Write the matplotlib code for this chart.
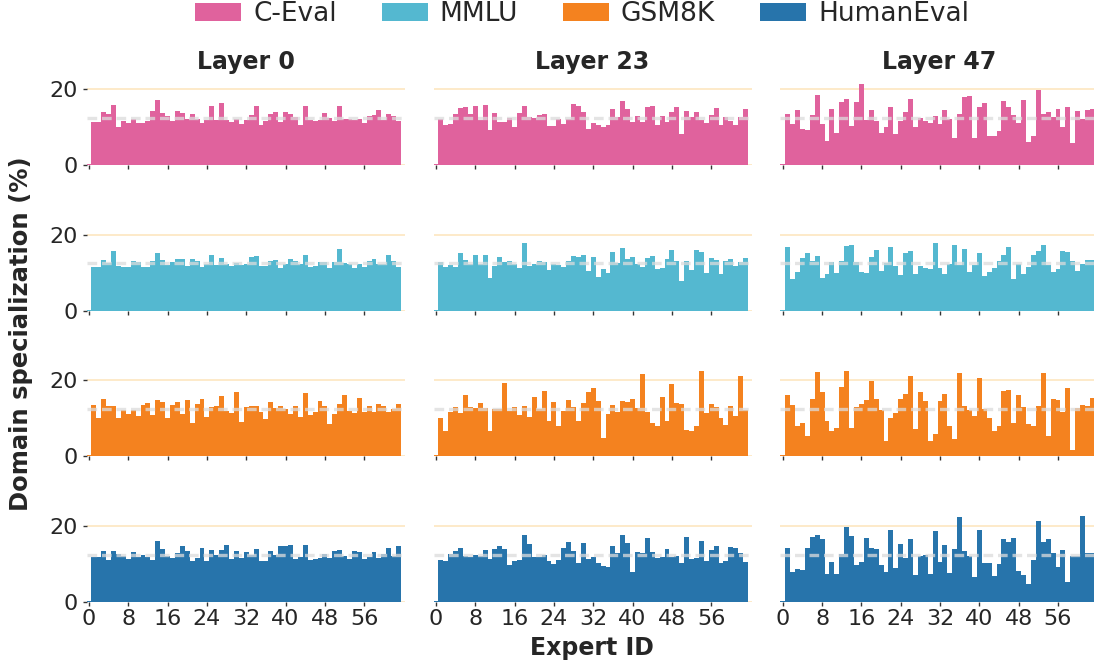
import matplotlib
matplotlib.use("Agg")
import matplotlib.pyplot as plt
from matplotlib.patches import Patch
import numpy as np

domains = ["C-Eval", "MMLU", "GSM8K", "HumanEval"]
layers = ["Layer 0", "Layer 23", "Layer 47"]
colors = ["#E0629D", "#54B8D0", "#F4821F", "#2774AB"]
xticks = [0, 8, 16, 24, 32, 40, 48, 56]
yticks = [0, 20]
uniform_share = 12.5

ceval_l0 = [0.3,
    11.4, 11.4, 14.0, 13.5, 15.9, 10.1, 11.7, 11.1, 12.2, 11.1,
    11.1, 11.7, 14.3, 17.2, 13.8, 13.0, 11.7, 14.3, 13.8, 12.2,
    13.5, 12.2, 11.1, 11.9, 15.6, 11.9, 16.4, 11.9, 11.4, 12.2,
    10.9, 11.9, 13.2, 15.6, 10.6, 11.7, 13.5, 14.0, 11.4, 14.0,
    13.5, 12.7, 10.6, 15.6, 11.9, 11.7, 11.9, 13.8, 12.5, 11.7,
    15.6, 12.2, 12.2, 11.9, 12.2, 11.1, 13.0, 13.2, 14.6, 11.9,
    13.5, 13.0, 11.7]
ceval_l23 = [0.3,
    12.2, 10.6, 10.9, 13.5, 15.1, 15.4, 13.5, 15.6, 11.9, 15.9,
    9.3, 13.8, 11.4, 11.4, 12.5, 10.1, 13.8, 15.6, 12.7, 12.5,
    13.2, 13.5, 10.4, 10.4, 12.2, 10.9, 12.2, 16.1, 15.6, 14.0,
    9.6, 11.1, 10.6, 10.1, 10.6, 14.8, 12.7, 16.9, 14.8, 11.4,
    13.0, 11.4, 15.4, 15.6, 10.6, 13.0, 11.4, 14.0, 15.4, 8.2,
    14.3, 12.7, 14.0, 11.9, 11.1, 13.2, 15.1, 10.6, 12.7, 11.7,
    10.6, 12.7, 14.8]
ceval_l47 = [0.3,
    13.5, 10.9, 14.6, 9.6, 9.3, 13.2, 18.5, 10.9, 6.4, 14.8,
    8.5, 16.7, 17.5, 10.4, 16.7, 21.4, 11.9, 14.6, 11.7, 8.5,
    10.1, 15.4, 8.2, 11.7, 14.0, 17.5, 10.1, 12.5, 11.7, 11.1,
    13.0, 10.9, 14.6, 12.2, 7.2, 13.5, 18.0, 18.2, 7.2, 15.4,
    16.4, 7.7, 7.7, 9.0, 16.9, 15.4, 13.2, 11.1, 17.2, 6.1,
    7.7, 19.8, 13.5, 14.0, 12.7, 14.8, 10.1, 15.4, 5.9, 14.3,
    12.2, 14.6, 14.8]
mmlu_l0 = [0.3,
    11.5, 11.5, 13.4, 12.6, 15.8, 11.8, 11.5, 11.5, 13.1, 12.9,
    11.5, 11.5, 13.1, 15.2, 13.4, 12.1, 12.9, 13.7, 13.7, 11.8,
    13.7, 13.1, 11.5, 12.3, 14.7, 12.1, 13.9, 12.3, 11.8, 12.6,
    12.1, 12.3, 14.2, 14.4, 11.8, 11.8, 13.1, 13.4, 11.3, 12.3,
    13.7, 13.1, 12.3, 14.7, 11.5, 11.8, 12.9, 12.9, 11.3, 12.9,
    16.3, 12.6, 12.3, 11.3, 12.3, 11.5, 13.1, 13.7, 12.3, 12.3,
    14.7, 13.1, 11.5]
mmlu_l23 = [0.3,
    12.9, 11.5, 12.1, 11.5, 15.2, 13.4, 12.3, 14.7, 12.3, 14.7,
    8.6, 11.8, 14.2, 12.9, 13.1, 12.3, 11.3, 17.9, 11.8, 12.3,
    13.1, 12.9, 10.7, 12.3, 12.1, 11.5, 13.1, 14.4, 14.2, 14.7,
    10.5, 14.2, 8.9, 11.0, 10.0, 15.5, 12.6, 16.6, 13.7, 14.2,
    12.3, 11.5, 13.9, 14.4, 11.0, 11.3, 13.7, 16.0, 13.1, 7.8,
    13.1, 10.7, 16.0, 15.5, 10.0, 13.9, 13.4, 9.7, 13.1, 13.7,
    11.8, 12.9, 13.9]
mmlu_l47 = [0.3,
    16.8, 8.4, 10.2, 13.9, 15.2, 13.1, 14.4, 8.6, 9.7, 12.9,
    10.0, 13.1, 17.1, 17.4, 12.9, 10.2, 10.0, 14.2, 16.0, 10.5,
    12.6, 16.8, 11.8, 9.4, 15.2, 15.8, 9.7, 11.8, 11.3, 11.0,
    17.9, 11.3, 9.7, 12.3, 17.4, 12.1, 16.3, 10.2, 12.1, 15.2,
    9.2, 10.2, 11.3, 13.1, 14.7, 16.8, 8.4, 12.3, 9.7, 11.5,
    14.7, 15.8, 17.4, 12.1, 10.2, 11.0, 15.8, 15.5, 13.1, 10.5,
    12.3, 13.4, 13.4]
gsm_l0 = [0.3,
    13.5, 10.0, 15.1, 13.2, 13.2, 10.0, 12.2, 11.1, 12.2, 10.6,
    13.5, 14.0, 10.8, 14.8, 14.3, 10.0, 13.5, 14.3, 11.1, 14.8,
    8.7, 13.7, 15.1, 10.3, 13.0, 13.2, 15.9, 11.9, 11.4, 16.9,
    9.0, 13.0, 13.2, 13.2, 11.6, 9.8, 14.3, 12.7, 13.2, 12.4,
    11.1, 13.2, 10.3, 16.7, 10.8, 11.6, 14.5, 13.2, 8.5, 11.1,
    13.7, 16.1, 11.9, 11.4, 15.3, 11.6, 13.2, 11.6, 13.7, 13.2,
    11.6, 12.4, 13.7]
gsm_l23 = [0.3,
    10.0, 6.6, 11.6, 13.0, 11.4, 16.1, 13.0, 12.7, 14.0, 12.7,
    6.6, 12.4, 12.4, 19.3, 11.9, 13.0, 10.8, 13.2, 10.3, 15.6,
    12.4, 17.2, 9.3, 14.3, 7.9, 11.9, 14.8, 13.0, 9.3, 14.0,
    16.9, 18.0, 14.5, 4.8, 11.1, 13.5, 11.6, 14.5, 14.3, 15.1,
    12.7, 21.7, 11.6, 8.7, 7.9, 15.6, 9.3, 19.0, 14.0, 13.7,
    6.9, 6.6, 7.9, 22.5, 11.4, 13.7, 13.0, 10.0, 8.2, 13.2,
    10.6, 21.1, 12.2]
gsm_l47 = [0.3,
    16.1, 13.5, 7.9, 8.7, 5.3, 15.1, 22.2, 16.9, 9.3, 6.6,
    7.4, 18.2, 22.5, 7.4, 13.0, 13.7, 14.8, 19.8, 15.1, 12.2,
    4.0, 10.0, 11.4, 15.1, 16.4, 21.1, 7.1, 16.9, 14.5, 4.0,
    5.8, 14.5, 16.4, 7.9, 4.5, 21.9, 13.2, 12.2, 10.6, 20.6,
    12.4, 10.0, 6.6, 7.9, 17.2, 17.4, 8.7, 16.1, 13.0, 8.5,
    7.9, 13.2, 21.9, 5.3, 15.1, 14.8, 11.6, 18.0, 1.6, 12.7,
    13.5, 13.2, 15.3]
he_l0 = [0.3,
    11.9, 11.9, 13.4, 11.1, 13.4, 12.7, 12.1, 11.4, 13.2, 11.9,
    12.4, 11.9, 11.1, 16.1, 14.0, 12.1, 11.6, 12.9, 14.8, 13.4,
    10.8, 11.6, 14.2, 10.8, 13.7, 12.4, 13.7, 15.0, 11.4, 13.4,
    11.6, 13.2, 12.4, 14.0, 10.8, 10.8, 13.4, 12.4, 14.8, 14.8,
    15.0, 11.4, 11.9, 15.0, 11.1, 11.4, 11.6, 12.7, 11.6, 13.4,
    13.7, 12.1, 11.4, 13.4, 13.2, 11.4, 11.9, 13.2, 11.6, 12.7,
    14.2, 12.1, 14.8]
he_l23 = [0.3,
    11.1, 10.8, 12.7, 13.4, 14.2, 12.1, 11.9, 12.4, 12.1, 13.7,
    11.4, 14.0, 14.8, 14.0, 9.8, 10.8, 11.1, 17.6, 15.3, 11.9,
    11.9, 12.4, 10.8, 10.0, 11.1, 14.2, 15.8, 13.4, 10.3, 15.5,
    11.4, 11.9, 10.3, 9.5, 9.3, 14.8, 12.9, 17.6, 15.5, 7.9,
    13.2, 12.9, 16.9, 13.2, 11.6, 11.9, 14.0, 11.9, 12.1, 10.3,
    17.1, 11.4, 11.6, 16.1, 10.8, 13.7, 14.8, 10.3, 10.8, 14.5,
    14.2, 12.9, 10.6]
he_l47 = [0.3,
    14.2, 7.9, 8.7, 8.5, 14.2, 17.1, 17.6, 16.6, 7.4, 10.6,
    7.4, 12.7, 19.7, 17.4, 9.8, 10.6, 16.9, 14.2, 14.0, 9.8,
    7.9, 19.0, 9.0, 15.3, 11.6, 16.6, 7.2, 12.1, 12.4, 7.4,
    18.7, 10.6, 15.0, 7.7, 14.0, 22.4, 13.4, 12.1, 6.6, 19.0,
    10.3, 10.3, 6.9, 10.0, 16.6, 15.8, 16.9, 8.2, 7.2, 4.8,
    11.1, 21.3, 15.8, 16.6, 12.9, 9.3, 13.7, 5.3, 12.1, 12.1,
    22.6, 12.9, 12.9]

grid_data = [
    [ceval_l0, ceval_l23, ceval_l47],
    [mmlu_l0, mmlu_l23, mmlu_l47],
    [gsm_l0, gsm_l23, gsm_l47],
    [he_l0, he_l23, he_l47],
]

text_color = "#262626"
plt.rcParams["text.color"] = text_color
plt.rcParams["xtick.labelcolor"] = text_color
plt.rcParams["ytick.labelcolor"] = text_color

W, H = 1094, 664
fig = plt.figure(figsize=(W / 100, H / 100), dpi=100)

col_left = [86.5, 433.5, 780.3]
col_w = 318.0
row_base = [165.3, 310.7, 456.0, 602.3]
y_top = 23.5
px_per_unit = 3.8
row_h = y_top * px_per_unit

for r in range(4):
    for c in range(3):
        vals = np.asarray(grid_data[r][c])
        x = np.arange(len(vals))
        ax = fig.add_axes([col_left[c] / W, (H - row_base[r]) / H, col_w / W, row_h / H])
        ax.bar(x, vals, width=1.0, color=colors[r], linewidth=0, antialiased=False, zorder=2)
        ax.axhline(uniform_share, color="#dcdcdc", alpha=0.75, lw=2.4,
                   ls=(0, (2.9, 1.45)), zorder=3)
        ax.set_xlim(-0.5, 64.2)
        ax.set_ylim(0, y_top)
        ax.set_yticks(yticks)
        ax.set_xticks(xticks)
        ax.grid(axis="y", color="#fde6c0", lw=1.2, zorder=0)
        ax.grid(axis="x", visible=False)
        ax.set_axisbelow(True)
        for s in ax.spines.values():
            s.set_visible(False)
        ax.tick_params(axis="x", length=3, width=1, color="#333333", labelsize=16, pad=2,
                       labelbottom=(r == 3))
        if c == 0:
            ax.tick_params(axis="y", length=3, width=1, color="#333333", labelsize=16, pad=3)
        else:
            ax.tick_params(axis="y", length=0, labelleft=False)
        if r == 0:
            ax.set_title(layers[c], fontsize=17, fontweight="bold", pad=5)

fig.text(21 / W, (H - 334) / H, "Domain specialization (%)", rotation=90,
         ha="center", va="center", fontsize=17.5, fontweight="bold")
fig.text(592 / W, (H - 648) / H, "Expert ID", ha="center", va="center",
         fontsize=17, fontweight="bold")

handles = [Patch(facecolor=col, edgecolor="none") for col in colors]
fig.legend(handles, domains, loc="center", bbox_to_anchor=(582 / W, (H - 14) / H),
           ncol=4, frameon=False, fontsize=19, handlelength=1.75, handleheight=0.7,
           handletextpad=0.45, columnspacing=1.7, borderaxespad=0, borderpad=0)

fig.savefig("out.png", dpi=100)
